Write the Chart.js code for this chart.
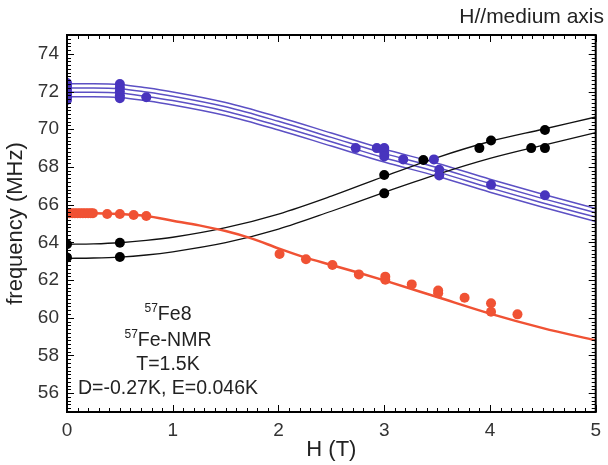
<!DOCTYPE html>
<html>
<head>
<meta charset="utf-8">
<script src="https://cdn.jsdelivr.net/npm/chart.js@4.4.1/dist/chart.umd.min.js"></script>
<style>
  html, body { margin: 0; padding: 0; background: #fff; }
</style>
</head>
<body>
<canvas id="myChart" width="608" height="465"></canvas>
<script>
// tick labels
const xTicks = [0, 1, 2, 3, 4, 5];
const yTicks = [56, 58, 60, 62, 64, 66, 68, 70, 72, 74];

// fitted curves (H in T, frequency in MHz)
const curveH = [0, 0.25, 0.5, 0.75, 1, 1.5, 2, 2.5, 3, 3.5, 4, 4.5, 5];
const blueLine1 = [72.42, 72.42, 72.38, 72.2, 71.98, 71.42, 70.65, 69.8, 68.95, 68.2, 67.35, 66.55, 65.8];
const blueLine2 = [72.19, 72.19, 72.15, 71.97, 71.75, 71.19, 70.42, 69.57, 68.72, 67.97, 67.12, 66.32, 65.57];
const blueLine3 = [71.96, 71.96, 71.92, 71.74, 71.52, 70.96, 70.19, 69.34, 68.49, 67.74, 66.89, 66.09, 65.34];
const blueLine4 = [71.73, 71.73, 71.69, 71.51, 71.29, 70.73, 69.96, 69.11, 68.26, 67.51, 66.66, 65.86, 65.11];
const blackLineUp = [63.9, 63.92, 63.98, 64.1, 64.27, 64.78, 65.5, 66.45, 67.5, 68.5, 69.35, 70.0, 70.65];
const blackLineLow = [63.15, 63.17, 63.22, 63.33, 63.5, 63.98, 64.7, 65.65, 66.65, 67.6, 68.45, 69.15, 69.82];

const redCurveH = [0, 0.25, 0.5, 0.75, 1, 1.25, 1.5, 1.75, 2, 2.25, 2.5, 2.75, 3, 3.5, 4, 4.5, 5];
const redLine = [65.55, 65.55, 65.5, 65.4, 65.15, 64.9, 64.6, 64.2, 63.68, 63.2, 62.8, 62.4, 61.98, 61.1, 60.22, 59.45, 58.8];

// measured points
const blueH = [0, 0, 0, 0, 0, 0, 0, 0.5, 0.5, 0.5, 0.5, 0.5, 0.75,
  2.73, 2.93, 3.0, 3.0, 3.0, 3.18, 3.47, 3.52, 3.52, 4.01, 4.52];
const blueF = [72.45, 72.3, 72.15, 72.0, 71.85, 71.7, 71.55, 72.4, 72.2, 72.0, 71.8, 71.65, 71.7,
  69.0, 69.0, 69.0, 68.75, 68.55, 68.4, 68.4, 67.85, 67.55, 67.05, 66.5];

const blackH = [0, 0, 0.5, 0.5, 3.0, 3.0, 3.37, 3.9, 4.01, 4.39, 4.52, 4.52];
const blackF = [63.9, 63.2, 63.98, 63.22, 67.57, 66.6, 68.37, 69.0, 69.4, 69.0, 69.0, 69.96];

const redH = [0, 0.025, 0.05, 0.075, 0.1, 0.125, 0.15, 0.175, 0.2, 0.225, 0.245, 0.38, 0.5, 0.63, 0.75,
  2.01, 2.26, 2.51, 2.76, 3.01, 3.01, 3.26, 3.51, 3.51, 3.76, 4.01, 4.01, 4.26];
const redF = [65.55, 65.55, 65.55, 65.55, 65.55, 65.55, 65.55, 65.55, 65.55, 65.55, 65.55, 65.5, 65.5, 65.45, 65.4,
  63.38, 63.1, 62.8, 62.3, 62.18, 62.02, 61.77, 61.44, 61.3, 61.06, 60.77, 60.32, 60.18];

const BLUE = 'rgb(72, 52, 190)';
const BLUE_LINE = 'rgb(92, 80, 196)';
const RED = 'rgb(240, 82, 52)';
const FONT = '"Liberation Sans", Arial, sans-serif';

// turn two arrays into {x, y} points
function pts(xs, ys) {
  return xs.map((v, i) => ({x: v, y: ys[i]}));
}

function lineSet(xs, ys, color, width) {
  return {
    data: pts(xs, ys), showLine: true, pointRadius: 0, borderColor: color,
    borderWidth: width, cubicInterpolationMode: 'monotone', clip: 0, order: 2
  };
}

function pointSet(xs, ys, color) {
  return {
    data: pts(xs, ys), showLine: false, pointRadius: 5, pointBackgroundColor: color,
    pointBorderColor: color, pointBorderWidth: 0, clip: 0, order: 1
  };
}

// frame, inside ticks and the text on the plot
const frameTicks = {
  id: 'frameTicks',
  afterDraw(chart) {
    const {ctx, chartArea: a, scales: {x, y}} = chart;
    ctx.save();
    ctx.strokeStyle = '#000';
    ctx.lineWidth = 1;
    ctx.beginPath();
    for (let i = 0; i <= 50; i++) {
      const px = Math.round(x.getPixelForValue(i / 10)) + 0.5;
      const len = i % 10 === 0 ? 7 : 4;
      ctx.moveTo(px, a.bottom); ctx.lineTo(px, a.bottom - len);
      ctx.moveTo(px, a.top); ctx.lineTo(px, a.top + len);
    }
    for (let i = 0; i <= 100; i++) {
      const py = Math.round(y.getPixelForValue(55 + i * 0.2)) + 0.5;
      const len = (i - 5) % 10 === 0 ? 7 : 4;
      ctx.moveTo(a.left, py); ctx.lineTo(a.left + len, py);
      ctx.moveTo(a.right, py); ctx.lineTo(a.right - len, py);
    }
    ctx.stroke();
    ctx.lineWidth = 2;
    ctx.strokeRect(a.left, a.top, a.right - a.left, a.bottom - a.top);

    // title in the top right corner
    ctx.fillStyle = '#222';
    ctx.font = '21px ' + FONT;
    ctx.textAlign = 'right';
    ctx.textBaseline = 'alphabetic';
    ctx.fillText('H//medium axis', 604, 23);

    // sample notes, with a small superscript 57
    const notes = [
      {sup: '57', text: 'Fe8', base: 320},
      {sup: '57', text: 'Fe-NMR', base: 346},
      {sup: '', text: 'T=1.5K', base: 370},
      {sup: '', text: 'D=-0.27K, E=0.046K', base: 394}
    ];
    ctx.textAlign = 'left';
    notes.forEach(n => {
      ctx.font = '12px ' + FONT;
      const ws = n.sup ? ctx.measureText(n.sup).width : 0;
      ctx.font = '19.5px ' + FONT;
      const wt = ctx.measureText(n.text).width;
      const x0 = 168 - (ws + wt) / 2;
      if (n.sup) {
        ctx.font = '12px ' + FONT;
        ctx.fillText(n.sup, x0, n.base - 8);
        ctx.font = '19.5px ' + FONT;
      }
      ctx.fillText(n.text, x0 + ws, n.base);
    });
    ctx.restore();
  }
};

const myChart = document.getElementById('myChart');

new Chart(myChart, {
  type: 'scatter',
  data: {
    datasets: [
      pointSet(redH, redF, RED),
      pointSet(blackH, blackF, '#000'),
      pointSet(blueH, blueF, BLUE),
      lineSet(redCurveH, redLine, RED, 2.5),
      lineSet(curveH, blackLineUp, '#111', 1.3),
      lineSet(curveH, blackLineLow, '#111', 1.3),
      lineSet(curveH, blueLine1, BLUE_LINE, 1.5),
      lineSet(curveH, blueLine2, BLUE_LINE, 1.5),
      lineSet(curveH, blueLine3, BLUE_LINE, 1.5),
      lineSet(curveH, blueLine4, BLUE_LINE, 1.5)
    ]
  },
  options: {
    responsive: false,
    animation: false,
    devicePixelRatio: 1,
    layout: {padding: {top: 35, right: 4, left: 0, bottom: 0}},
    plugins: {legend: {display: false}, tooltip: {enabled: false}},
    scales: {
      x: {
        type: 'linear', min: 0, max: 5,
        afterBuildTicks: s => { s.ticks = xTicks.map(v => ({value: v})); },
        afterFit: s => { s.height = 53; },
        grid: {display: false, drawTicks: false},
        border: {display: false},
        ticks: {padding: 7, color: '#333', font: {family: FONT, size: 19}},
        title: {display: true, text: 'H (T)', color: '#222', padding: {top: 0, bottom: 2},
          font: {family: FONT, size: 22}}
      },
      y: {
        type: 'linear', min: 55, max: 75,
        afterBuildTicks: s => { s.ticks = yTicks.map(v => ({value: v})); },
        afterFit: s => { s.width = 67; },
        grid: {display: false, drawTicks: false},
        border: {display: false},
        ticks: {padding: 8, color: '#333', font: {family: FONT, size: 19}},
        title: {display: true, text: 'frequency (MHz)', color: '#222', padding: {top: 3, bottom: 0},
          font: {family: FONT, size: 22}}
      }
    }
  },
  plugins: [frameTicks]
});
</script>
</body>
</html>
